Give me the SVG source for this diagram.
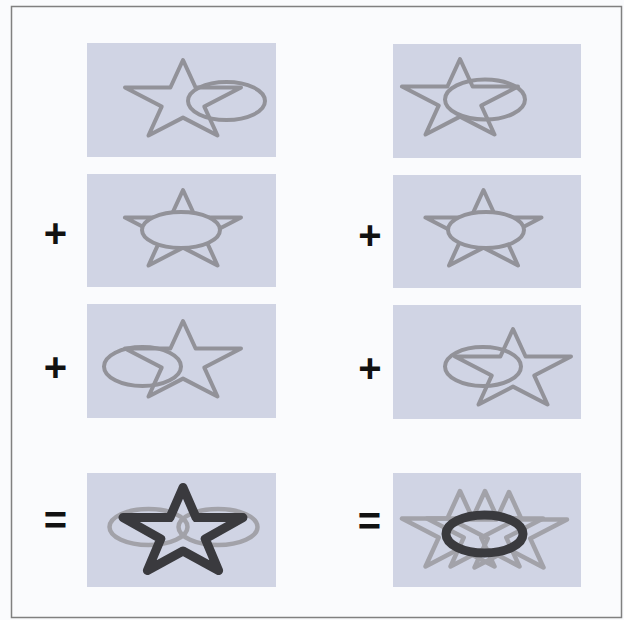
<svg xmlns="http://www.w3.org/2000/svg" xmlns:xlink="http://www.w3.org/1999/xlink" width="624" height="620" viewBox="0 0 624 620">
<style>
.panel{fill:#d0d4e4}
.sh{fill:none;stroke:#929299;stroke-width:4;stroke-linejoin:round}
.lt{fill:none;stroke:#a2a2a9;stroke-width:4.5;stroke-linejoin:round}
.dk{fill:none;stroke:#3a3a3e;stroke-width:9;stroke-linejoin:round}
.op{font-family:"Liberation Sans",Arial,sans-serif;font-weight:bold;font-size:40px;fill:#111;text-anchor:middle}
</style>
<defs>
<path id="star" d="M0,-42 L12.6,-14.5 L58,-14.5 L21.3,4.6 L34.5,33.5 L0,15.6 L-34.5,33.5 L-21.3,4.6 L-58,-14.5 L-12.6,-14.5Z"/>
<path id="bigstar" d="M0,-46.2 L13.1,-16.1 L60,-16.1 L22.2,5.1 L35.6,36.8 L0,17.3 L-35.6,36.8 L-22.2,5.1 L-60,-16.1 L-13.1,-16.1Z"/>
</defs>
<rect x="0" y="0" width="624" height="620" fill="#fafbfd"/>
<rect x="11.5" y="6.5" width="610" height="611" fill="none" stroke="#808080" stroke-width="1.5"/>

<g id="panel-1-left">
<rect class="panel" x="87" y="43" width="189" height="114"/>
<use xlink:href="#star" class="sh" x="183" y="102"/>
<ellipse class="sh" cx="226.5" cy="101" rx="38.5" ry="19"/>
</g>
<g id="panel-1-right">
<rect class="panel" x="393" y="44" width="188" height="114"/>
<use xlink:href="#star" class="sh" x="460" y="101"/>
<ellipse class="sh" cx="485" cy="99.5" rx="40" ry="20"/>
</g>

<g id="plus-2-left"><text class="op" x="55.5" y="247">+</text></g>
<g id="panel-2-left">
<rect class="panel" x="87" y="174" width="189" height="113"/>
<use xlink:href="#star" class="sh" x="183" y="232"/>
<ellipse class="sh" cx="181" cy="230" rx="39" ry="18" style="fill:#d0d4e4"/>
</g>
<g id="plus-2-right"><text class="op" x="370" y="249">+</text></g>
<g id="panel-2-right">
<rect class="panel" x="393" y="175" width="188" height="113"/>
<use xlink:href="#star" class="sh" x="483.5" y="232"/>
<ellipse class="sh" cx="486" cy="230" rx="38" ry="18" style="fill:#d0d4e4"/>
</g>

<g id="plus-3-left"><text class="op" x="55.5" y="381">+</text></g>
<g id="panel-3-left">
<rect class="panel" x="87" y="304" width="189" height="114"/>
<use xlink:href="#star" class="sh" x="183" y="363"/>
<ellipse class="sh" cx="142.5" cy="366.5" rx="38.5" ry="19.5"/>
</g>
<g id="plus-3-right"><text class="op" x="370" y="381.5">+</text></g>
<g id="panel-3-right">
<rect class="panel" x="393" y="305" width="188" height="114"/>
<use xlink:href="#star" class="sh" x="513" y="371"/>
<ellipse class="sh" cx="483" cy="366.5" rx="38" ry="19.5"/>
</g>

<g id="equals-left"><text class="op" x="55.5" y="534">=</text></g>
<g id="panel-4-left">
<rect class="panel" x="87" y="473" width="189" height="114"/>
<ellipse class="lt" cx="148.5" cy="527" rx="39" ry="18"/>
<ellipse class="lt" cx="218" cy="527" rx="39.5" ry="18"/>
<use xlink:href="#bigstar" class="dk" x="183" y="533.7"/>
</g>
<g id="equals-right"><text class="op" x="369.5" y="534.5">=</text></g>
<g id="panel-4-right">
<rect class="panel" x="393" y="473" width="188" height="114"/>
<use xlink:href="#star" class="lt" x="460" y="533"/>
<use xlink:href="#star" class="lt" x="485" y="533"/>
<use xlink:href="#star" class="lt" x="509" y="534"/>
<ellipse class="dk" cx="484.5" cy="534" rx="38.5" ry="19"/>
</g>
</svg>
